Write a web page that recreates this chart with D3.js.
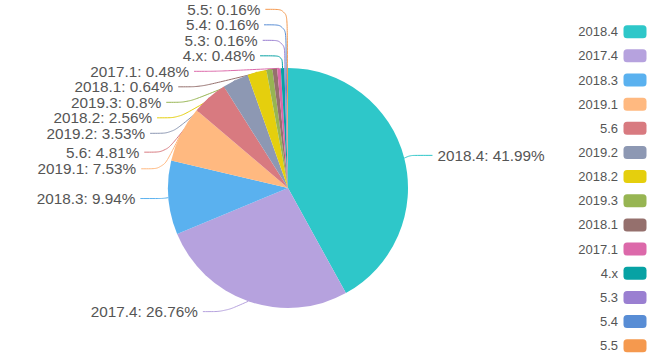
<!DOCTYPE html>
<html>
<head>
<meta charset="utf-8">
<script src="https://cdn.jsdelivr.net/npm/d3@7"></script>
<style>
  html, body { margin: 0; padding: 0; background: #fff; }
  svg { display: block; }
  text { font-family: "Liberation Sans", Arial, sans-serif; }
</style>
</head>
<body>
<div id="chart"></div>
<script>
// ---- data ----
const categories = ['2018.4', '2017.4', '2018.3', '2019.1', '5.6', '2019.2', '2018.2', '2019.3', '2018.1', '2017.1', '4.x', '5.3', '5.4', '5.5'];
const values = [262, 167, 62, 47, 30, 22, 16, 5, 4, 3, 3, 1, 1, 1];
const colors = ['#2ec7c9', '#b6a2de', '#5ab1ef', '#ffb980', '#d87a80', '#8d98b3', '#e5cf0d', '#97b552', '#95706d', '#dc69aa', '#07a2a4', '#9a7fd1', '#588dd5', '#f5994e'];

// ---- layout constants ----
const W = 650, H = 359;
const cx = 288, cy = 188, R = 120;
const LEN = 11, LEN2 = 22, DIST = 5, LH = 15.5, SMOOTH = 0.3;
const labelFont = 15.3, legendFont = 13;
const textColor = '#555';

const svg = d3.select('#chart').append('svg').attr('width', W).attr('height', H);

const total = d3.sum(values);
const pct = v => +(v / total * 100).toFixed(2);
const arcs = d3.pie().sort(null).value(d => d)(values);
const arcGen = d3.arc().innerRadius(0).outerRadius(R);

// ---- label layout (outer labels, avoid overlap) ----
const items = arcs.map((a, i) => {
  const mid = (a.startAngle + a.endAngle) / 2;
  const dx = Math.sin(mid), dy = -Math.cos(mid);
  const x1 = cx + R * dx, y1 = cy + R * dy;
  const x2 = cx + (R + LEN) * dx, y2 = cy + (R + LEN) * dy;
  const dir = dx < 0 ? -1 : 1;
  const x3 = x2 + dir * LEN2;
  return { i, dir, x: x3 + dir * DIST, y: y2, h: LH, pts: [[x1, y1], [x2, y2], [x3, y2]] };
});

function adjustSide(list, dir) {
  list.sort((a, b) => a.y - b.y);
  const n = list.length;
  function shiftDown(start, end, delta) {
    for (let j = start; j < end; j++) {
      if (list[j].y + delta > H) break;
      list[j].y += delta;
      if (j > start && j + 1 < end && list[j + 1].y > list[j].y + list[j].h) {
        shiftUp(j, delta / 2);
        return;
      }
    }
    shiftUp(end - 1, delta / 2);
  }
  function shiftUp(end, delta) {
    for (let j = end; j >= 0; j--) {
      if (list[j].y - delta < 0) break;
      list[j].y -= delta;
      if (j > 0 && list[j].y > list[j - 1].y + list[j - 1].h) break;
    }
  }
  function changeX(sub, isDown) {
    let last = isDown ? Number.MAX_VALUE : 0;
    sub.forEach(it => {
      const dY = Math.abs(it.y - cy);
      let dX = dY < R + LEN
        ? Math.sqrt((R + LEN + LEN2) ** 2 - dY * dY)
        : Math.abs(it.x - cx);
      if (isDown && dX >= last) dX = last - 10;
      if (!isDown && dX <= last) dX = last + 10;
      it.x = cx + dX * dir;
      last = dX;
    });
  }
  let lastY = 0;
  for (let i = 0; i < n; i++) {
    const delta = list[i].y - lastY;
    if (delta < 0) shiftDown(i, n, -delta);
    lastY = list[i].y + list[i].h;
  }
  if (H - lastY < 0) shiftUp(n - 1, lastY - H);
  changeX(list.filter(d => d.y < cy), false);
  changeX(list.filter(d => d.y >= cy), true);
}
adjustSide(items.filter(d => d.dir > 0), 1);
adjustSide(items.filter(d => d.dir < 0), -1);

items.forEach(it => {
  const dist = it.pts[1][0] - it.pts[2][0];
  it.pts[2][0] = it.x - it.dir * DIST;
  it.pts[1][0] = it.pts[2][0] + dist;
  it.pts[1][1] = it.pts[2][1] = it.y;
});

function linePath(p) {
  const lerp = (a, b, t) => [a[0] + (b[0] - a[0]) * t, a[1] + (b[1] - a[1]) * t];
  const l1 = Math.hypot(p[1][0] - p[0][0], p[1][1] - p[0][1]);
  const l2 = Math.hypot(p[2][0] - p[1][0], p[2][1] - p[1][1]);
  const path = d3.path();
  path.moveTo(p[0][0], p[0][1]);
  if (!l1 || !l2) {
    path.lineTo(p[1][0], p[1][1]);
    path.lineTo(p[2][0], p[2][1]);
    return path.toString();
  }
  const m = Math.min(l1, l2) * SMOOTH;
  const m0 = lerp(p[1], p[0], m / l1);
  const m2 = lerp(p[1], p[2], m / l2);
  const m1 = lerp(m0, m2, 0.5);
  path.bezierCurveTo(m0[0], m0[1], m0[0], m0[1], m1[0], m1[1]);
  path.bezierCurveTo(m2[0], m2[1], m2[0], m2[1], p[2][0], p[2][1]);
  return path.toString();
}

// ---- label lines (under the sectors) ----
svg.append('g').selectAll('path').data(items).join('path')
  .attr('d', d => linePath(d.pts))
  .attr('fill', 'none')
  .attr('stroke', d => colors[d.i])
  .attr('stroke-width', 1);

// ---- sectors ----
svg.append('g').attr('transform', `translate(${cx},${cy})`)
  .selectAll('path').data(arcs).join('path')
  .attr('d', arcGen)
  .attr('fill', (d, i) => colors[i]);

// ---- labels ----
svg.append('g').selectAll('text').data(items).join('text')
  .attr('x', d => d.x)
  .attr('y', d => d.y)
  .attr('dy', '0.35em')
  .attr('text-anchor', d => d.dir < 0 ? 'end' : 'start')
  .attr('font-size', labelFont)
  .attr('fill', textColor)
  .text(d => `${categories[d.i]}: ${pct(values[d.i])}%`);

// ---- legend ----
const legendY = d3.scalePoint().domain(categories).range([31.7, 345.7]);
const lg = svg.append('g').selectAll('g').data(categories).join('g')
  .attr('transform', d => `translate(0,${legendY(d)})`);
lg.append('rect')
  .attr('x', 623.5).attr('y', -6.5).attr('width', 23).attr('height', 13)
  .attr('rx', 3.5).attr('fill', (d, i) => colors[i]);
lg.append('text')
  .attr('x', 618).attr('dy', '0.35em')
  .attr('text-anchor', 'end')
  .attr('font-size', legendFont)
  .attr('fill', textColor)
  .text(d => d);
</script>
</body>
</html>
